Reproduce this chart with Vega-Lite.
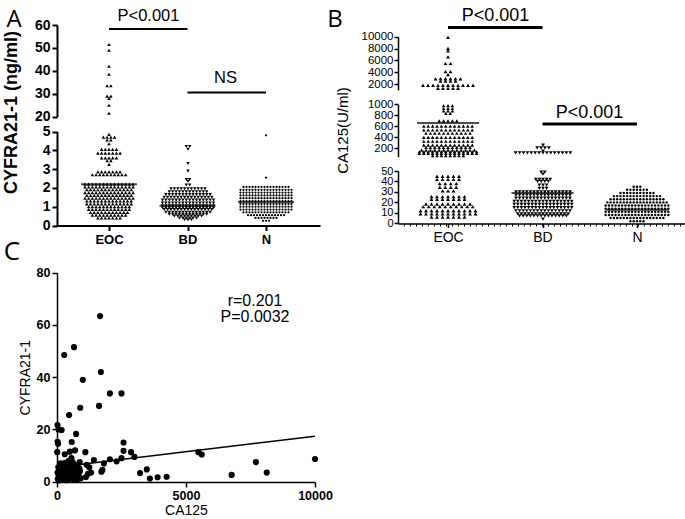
{
"$schema":"https://vega.github.io/schema/vega-lite/v6.json",
"width":685,"height":519,"padding":0,"autosize":"none","background":"#ffffff",
"config":{"view":{"stroke":null},"font":"Liberation Sans","axis":{"grid":false,"domainColor":"#000","tickColor":"#000","labelColor":"#000","titleColor":"#000","labelFont":"Liberation Sans","titleFont":"Liberation Sans","labelOverlap":false,"labelFlush":false}},
"datasets":{
"cE":[{"v":51.5},{"v":49},{"v":42},{"v":38.5},{"v":33.5},{"v":33.5},{"v":29},{"v":29},{"v":28},{"v":25},{"v":21.5},
{"v":4.85},{"v":4.7},{"v":4.7},{"v":4.7},{"v":4.7},{"v":4.55},{"v":4.55},{"v":4.35},
{"v":4.05},{"v":4.05},{"v":4.05},{"v":4.05},{"v":4.05},
{"v":3.85},{"v":3.85},{"v":3.85},{"v":3.85},{"v":3.85},{"v":3.85},{"v":3.85},
{"v":3.6},{"v":3.6},{"v":3.6},{"v":3.6},{"v":3.6},{"v":3.45},{"v":3.45},{"v":3.25},
{"v":2.85},{"v":2.85},{"v":2.85},{"v":2.85},{"v":2.85},{"v":2.85},{"v":2.85},
{"v":2.7},{"v":2.7},{"v":2.7},{"v":2.7},{"v":2.7},{"v":2.7},{"v":2.7},{"v":2.7},{"v":2.7},{"v":2.7},
{"v":2.2},{"v":2.2},{"v":2.2},{"v":2.2},{"v":2.2},{"v":2.2},{"v":2.2},{"v":2.2},{"v":2.2},{"v":2.2},{"v":2.2},{"v":2.2},{"v":2.2},{"v":2.2},
{"v":2.05},{"v":2.05},{"v":2.05},{"v":2.05},{"v":2.05},{"v":2.05},{"v":2.05},{"v":2.05},{"v":2.05},{"v":2.05},{"v":2.05},{"v":2.05},{"v":2.05},{"v":2.05},
{"v":1.9},{"v":1.9},{"v":1.9},{"v":1.9},{"v":1.9},{"v":1.9},{"v":1.9},{"v":1.9},{"v":1.9},{"v":1.9},{"v":1.9},{"v":1.9},{"v":1.9},
{"v":1.75},{"v":1.75},{"v":1.75},{"v":1.75},{"v":1.75},{"v":1.75},{"v":1.75},{"v":1.75},{"v":1.75},{"v":1.75},{"v":1.75},{"v":1.75},{"v":1.75},{"v":1.75},
{"v":1.6},{"v":1.6},{"v":1.6},{"v":1.6},{"v":1.6},{"v":1.6},{"v":1.6},{"v":1.6},{"v":1.6},{"v":1.6},{"v":1.6},{"v":1.6},{"v":1.6},
{"v":1.45},{"v":1.45},{"v":1.45},{"v":1.45},{"v":1.45},{"v":1.45},{"v":1.45},{"v":1.45},{"v":1.45},{"v":1.45},{"v":1.45},{"v":1.45},{"v":1.45},{"v":1.45},
{"v":1.3},{"v":1.3},{"v":1.3},{"v":1.3},{"v":1.3},{"v":1.3},{"v":1.3},{"v":1.3},{"v":1.3},{"v":1.3},{"v":1.3},{"v":1.3},{"v":1.3},
{"v":1.15},{"v":1.15},{"v":1.15},{"v":1.15},{"v":1.15},{"v":1.15},{"v":1.15},{"v":1.15},{"v":1.15},{"v":1.15},{"v":1.15},{"v":1.15},{"v":1.15},
{"v":1},{"v":1},{"v":1},{"v":1},{"v":1},{"v":1},{"v":1},{"v":1},{"v":1},{"v":1},{"v":1},{"v":1},
{"v":0.85},{"v":0.85},{"v":0.85},{"v":0.85},{"v":0.85},{"v":0.85},{"v":0.85},{"v":0.85},{"v":0.85},{"v":0.85},{"v":0.85},{"v":0.85},
{"v":0.7},{"v":0.7},{"v":0.7},{"v":0.7},{"v":0.7},{"v":0.7},{"v":0.7},{"v":0.7},{"v":0.7},{"v":0.7},{"v":0.7},
{"v":0.55},{"v":0.55},{"v":0.55},{"v":0.55},{"v":0.55},{"v":0.55},{"v":0.55},{"v":0.55},{"v":0.55},{"v":0.55},
{"v":0.4},{"v":0.4},{"v":0.4},{"v":0.4},{"v":0.4},{"v":0.4},{"v":0.4}],
"cB":[{"v":4.2},{"v":4.2},{"v":4.05},{"v":3.3},{"v":2.9},{"v":2.45},{"v":2.45},{"v":2.35},{"v":2.15},{"v":2.15},
{"v":1.95},{"v":1.95},{"v":1.95},{"v":1.95},{"v":1.95},{"v":1.95},{"v":1.95},{"v":1.95},{"v":1.95},{"v":1.95},{"v":1.95},
{"v":1.8},{"v":1.8},{"v":1.8},{"v":1.8},{"v":1.8},{"v":1.8},{"v":1.8},{"v":1.8},{"v":1.8},{"v":1.8},{"v":1.8},{"v":1.8},
{"v":1.65},{"v":1.65},{"v":1.65},{"v":1.65},{"v":1.65},{"v":1.65},{"v":1.65},{"v":1.65},{"v":1.65},{"v":1.65},{"v":1.65},{"v":1.65},{"v":1.65},{"v":1.65},
{"v":1.5},{"v":1.5},{"v":1.5},{"v":1.5},{"v":1.5},{"v":1.5},{"v":1.5},{"v":1.5},{"v":1.5},{"v":1.5},{"v":1.5},{"v":1.5},{"v":1.5},{"v":1.5},{"v":1.5},
{"v":1.35},{"v":1.35},{"v":1.35},{"v":1.35},{"v":1.35},{"v":1.35},{"v":1.35},{"v":1.35},{"v":1.35},{"v":1.35},{"v":1.35},{"v":1.35},{"v":1.35},{"v":1.35},{"v":1.35},{"v":1.35},
{"v":1.2},{"v":1.2},{"v":1.2},{"v":1.2},{"v":1.2},{"v":1.2},{"v":1.2},{"v":1.2},{"v":1.2},{"v":1.2},{"v":1.2},{"v":1.2},{"v":1.2},{"v":1.2},{"v":1.2},{"v":1.2},
{"v":1.05},{"v":1.05},{"v":1.05},{"v":1.05},{"v":1.05},{"v":1.05},{"v":1.05},{"v":1.05},{"v":1.05},{"v":1.05},{"v":1.05},{"v":1.05},{"v":1.05},{"v":1.05},{"v":1.05},{"v":1.05},
{"v":0.95},{"v":0.95},{"v":0.95},{"v":0.95},{"v":0.95},{"v":0.95},{"v":0.95},{"v":0.95},{"v":0.95},{"v":0.95},{"v":0.95},{"v":0.95},{"v":0.95},{"v":0.95},{"v":0.95},{"v":0.95},
{"v":0.85},{"v":0.85},{"v":0.85},{"v":0.85},{"v":0.85},{"v":0.85},{"v":0.85},{"v":0.85},{"v":0.85},{"v":0.85},{"v":0.85},{"v":0.85},{"v":0.85},{"v":0.85},{"v":0.85},
{"v":0.7},{"v":0.7},{"v":0.7},{"v":0.7},{"v":0.7},{"v":0.7},{"v":0.7},{"v":0.7},{"v":0.7},{"v":0.7},{"v":0.7},{"v":0.7},{"v":0.7},{"v":0.7},
{"v":0.6},{"v":0.6},{"v":0.6},{"v":0.6},{"v":0.6},{"v":0.6},{"v":0.6},{"v":0.6},{"v":0.6},{"v":0.6},{"v":0.6},{"v":0.6},
{"v":0.5},{"v":0.5},{"v":0.5},{"v":0.5},{"v":0.5},{"v":0.5},{"v":0.5},{"v":0.5},{"v":0.5},
{"v":0.4},{"v":0.4},{"v":0.4},{"v":0.4},{"v":0.4},{"v":0.4},{"v":0.3},{"v":0.3},{"v":0.3}],
"cN":[{"v":4.8},{"v":2.55},
{"v":2.05},{"v":2.05},{"v":2.05},{"v":2.05},{"v":2.05},{"v":2.05},{"v":2.05},{"v":2.05},{"v":2.05},{"v":2.05},{"v":2.05},{"v":2.05},{"v":2.05},{"v":2.05},{"v":2.05},{"v":2.05},
{"v":1.9},{"v":1.9},{"v":1.9},{"v":1.9},{"v":1.9},{"v":1.9},{"v":1.9},{"v":1.9},{"v":1.9},{"v":1.9},{"v":1.9},{"v":1.9},{"v":1.9},{"v":1.9},{"v":1.9},{"v":1.9},{"v":1.9},{"v":1.9},
{"v":1.75},{"v":1.75},{"v":1.75},{"v":1.75},{"v":1.75},{"v":1.75},{"v":1.75},{"v":1.75},{"v":1.75},{"v":1.75},{"v":1.75},{"v":1.75},{"v":1.75},{"v":1.75},{"v":1.75},{"v":1.75},{"v":1.75},{"v":1.75},
{"v":1.6},{"v":1.6},{"v":1.6},{"v":1.6},{"v":1.6},{"v":1.6},{"v":1.6},{"v":1.6},{"v":1.6},{"v":1.6},{"v":1.6},{"v":1.6},{"v":1.6},{"v":1.6},{"v":1.6},{"v":1.6},{"v":1.6},{"v":1.6},
{"v":1.45},{"v":1.45},{"v":1.45},{"v":1.45},{"v":1.45},{"v":1.45},{"v":1.45},{"v":1.45},{"v":1.45},{"v":1.45},{"v":1.45},{"v":1.45},{"v":1.45},{"v":1.45},{"v":1.45},{"v":1.45},{"v":1.45},{"v":1.45},
{"v":1.3},{"v":1.3},{"v":1.3},{"v":1.3},{"v":1.3},{"v":1.3},{"v":1.3},{"v":1.3},{"v":1.3},{"v":1.3},{"v":1.3},{"v":1.3},{"v":1.3},{"v":1.3},{"v":1.3},{"v":1.3},{"v":1.3},{"v":1.3},
{"v":1.15},{"v":1.15},{"v":1.15},{"v":1.15},{"v":1.15},{"v":1.15},{"v":1.15},{"v":1.15},{"v":1.15},{"v":1.15},{"v":1.15},{"v":1.15},{"v":1.15},{"v":1.15},{"v":1.15},{"v":1.15},{"v":1.15},{"v":1.15},
{"v":1},{"v":1},{"v":1},{"v":1},{"v":1},{"v":1},{"v":1},{"v":1},{"v":1},{"v":1},{"v":1},{"v":1},{"v":1},{"v":1},{"v":1},{"v":1},{"v":1},{"v":1},
{"v":0.85},{"v":0.85},{"v":0.85},{"v":0.85},{"v":0.85},{"v":0.85},{"v":0.85},{"v":0.85},{"v":0.85},{"v":0.85},{"v":0.85},{"v":0.85},{"v":0.85},{"v":0.85},{"v":0.85},{"v":0.85},{"v":0.85},{"v":0.85},
{"v":0.7},{"v":0.7},{"v":0.7},{"v":0.7},{"v":0.7},{"v":0.7},{"v":0.7},{"v":0.7},{"v":0.7},{"v":0.7},{"v":0.7},{"v":0.7},{"v":0.7},{"v":0.7},{"v":0.7},{"v":0.7},
{"v":0.55},{"v":0.55},{"v":0.55},{"v":0.55},{"v":0.55},{"v":0.55},{"v":0.55},{"v":0.55},{"v":0.55},{"v":0.55},{"v":0.55},{"v":0.55},{"v":0.55},
{"v":0.4},{"v":0.4},{"v":0.4},{"v":0.4},{"v":0.4},{"v":0.4},{"v":0.4},{"v":0.4},{"v":0.25},{"v":0.25},{"v":0.25}],
"kE":[{"v":9900},{"v":8000},{"v":7600},{"v":6600},{"v":5500},{"v":5500},{"v":4100},{"v":4100},{"v":3600},
{"v":2900},{"v":2900},{"v":2900},{"v":2900},{"v":2900},{"v":2900},{"v":2500},{"v":2500},{"v":2500},{"v":2500},
{"v":1800},{"v":1800},{"v":1800},{"v":1800},{"v":1800},{"v":1800},{"v":1800},{"v":1800},{"v":1800},{"v":1800},{"v":1800},
{"v":1300},{"v":1300},{"v":1300},{"v":1300},{"v":1300},
{"v":975},{"v":975},{"v":975},{"v":925},{"v":925},{"v":925},{"v":880},{"v":880},{"v":880},{"v":835},{"v":835},
{"v":700},{"v":700},{"v":700},{"v":700},{"v":700},
{"v":605},{"v":605},{"v":605},{"v":605},{"v":605},{"v":605},{"v":605},{"v":605},{"v":605},{"v":605},{"v":605},{"v":605},
{"v":535},{"v":535},{"v":535},{"v":535},{"v":535},{"v":535},{"v":535},{"v":535},{"v":535},{"v":535},{"v":535},{"v":535},
{"v":475},{"v":475},{"v":475},{"v":475},{"v":475},{"v":475},{"v":475},{"v":475},{"v":475},{"v":475},{"v":475},
{"v":400},{"v":400},{"v":400},{"v":400},{"v":400},{"v":400},{"v":400},{"v":400},{"v":400},{"v":400},{"v":400},{"v":400},
{"v":330},{"v":330},{"v":330},{"v":330},{"v":330},{"v":330},{"v":330},{"v":330},{"v":330},{"v":330},{"v":330},{"v":330},
{"v":260},{"v":260},{"v":260},{"v":260},{"v":260},{"v":260},{"v":260},{"v":260},{"v":260},{"v":260},{"v":260},{"v":260},
{"v":220},{"v":220},{"v":220},{"v":220},{"v":220},{"v":220},{"v":220},{"v":220},{"v":220},{"v":220},{"v":220},
{"v":170},{"v":170},{"v":170},{"v":170},{"v":170},{"v":170},{"v":170},{"v":170},{"v":170},{"v":170},{"v":170},{"v":170},{"v":170},
{"v":140},{"v":140},{"v":140},{"v":140},{"v":140},{"v":140},{"v":140},{"v":140},{"v":140},{"v":140},{"v":140},{"v":140},{"v":140},{"v":140},
{"v":110},{"v":110},{"v":110},{"v":110},{"v":110},{"v":110},{"v":110},{"v":110},{"v":110},{"v":110},{"v":110},{"v":110},{"v":110},{"v":110},
{"v":70},{"v":70},{"v":70},{"v":70},{"v":70},{"v":70},{"v":70},{"v":70},
{"v":45},{"v":45},{"v":45},{"v":45},{"v":45},{"v":42},{"v":42},{"v":42},{"v":42},{"v":42},
{"v":38},{"v":38},{"v":38},{"v":38},{"v":34.5},{"v":34.5},{"v":34.5},{"v":34.5},{"v":31},{"v":31},{"v":31},
{"v":25.5},{"v":25.5},{"v":25.5},{"v":25.5},{"v":25.5},{"v":25.5},{"v":25.5},
{"v":23},{"v":23},{"v":23},{"v":23},{"v":23},{"v":23},{"v":23},
{"v":18.5},{"v":18.5},{"v":18.5},{"v":18.5},{"v":18.5},{"v":18.5},{"v":18.5},{"v":18.5},{"v":18.5},
{"v":16},{"v":16},{"v":16},{"v":16},{"v":16},{"v":16},{"v":16},{"v":16},{"v":16},{"v":16},
{"v":12},{"v":12},{"v":12},{"v":12},{"v":12},{"v":12},{"v":12},{"v":12},{"v":12},{"v":12},{"v":12},
{"v":9},{"v":9},{"v":9},{"v":9},{"v":9},{"v":9},{"v":9},{"v":9},{"v":9},{"v":9},{"v":9},
{"v":6},{"v":6},{"v":6},{"v":6},{"v":6},{"v":6},{"v":6}],
"kB":[{"v":260},{"v":210},{"v":210},{"v":210},{"v":210},{"v":150},
{"v":120},{"v":120},{"v":120},{"v":120},{"v":120},{"v":120},{"v":120},{"v":120},{"v":120},{"v":120},{"v":120},{"v":120},{"v":120},{"v":120},{"v":120},
{"v":49},{"v":49},{"v":47},{"v":42},{"v":42},{"v":42},{"v":42},{"v":42},{"v":40},{"v":40},{"v":40},{"v":40},
{"v":36.5},{"v":36.5},{"v":36.5},{"v":33.5},{"v":33.5},{"v":33.5},
{"v":30},{"v":30},{"v":30},{"v":30},{"v":30},{"v":30},{"v":30},{"v":30},{"v":30},{"v":30},{"v":30},{"v":30},{"v":30},{"v":30},{"v":30},{"v":30},
{"v":27},{"v":27},{"v":27},{"v":27},{"v":27},{"v":27},{"v":27},{"v":27},{"v":27},{"v":27},{"v":27},{"v":27},{"v":27},{"v":27},{"v":27},{"v":27},
{"v":24},{"v":24},{"v":24},{"v":24},{"v":24},{"v":24},{"v":24},{"v":24},{"v":24},{"v":24},{"v":24},{"v":24},{"v":24},{"v":24},{"v":24},{"v":24},
{"v":21},{"v":21},{"v":21},{"v":21},{"v":21},{"v":21},{"v":21},{"v":21},{"v":21},{"v":21},{"v":21},{"v":21},{"v":21},{"v":21},{"v":21},{"v":21},{"v":21},
{"v":18},{"v":18},{"v":18},{"v":18},{"v":18},{"v":18},{"v":18},{"v":18},{"v":18},{"v":18},{"v":18},{"v":18},{"v":18},{"v":18},{"v":18},{"v":18},{"v":18},
{"v":15},{"v":15},{"v":15},{"v":15},{"v":15},{"v":15},{"v":15},{"v":15},{"v":15},{"v":15},{"v":15},{"v":15},{"v":15},{"v":15},{"v":15},{"v":15},{"v":15},
{"v":12},{"v":12},{"v":12},{"v":12},{"v":12},{"v":12},{"v":12},{"v":12},{"v":12},{"v":12},{"v":12},{"v":12},{"v":12},{"v":12},{"v":12},{"v":12},
{"v":9},{"v":9},{"v":9},{"v":9},{"v":9},{"v":9},{"v":9},{"v":9},{"v":9},{"v":9},{"v":9},{"v":9},{"v":9},{"v":9},{"v":9},
{"v":7},{"v":7},{"v":7},{"v":7},{"v":7},{"v":7},{"v":7},{"v":7},{"v":7},{"v":7},{"v":7},{"v":7},{"v":7},{"v":7},{"v":4}],
"kN":[{"v":35},{"v":35},{"v":35},{"v":32},{"v":32},{"v":32},{"v":32},{"v":32},{"v":32},{"v":32},
{"v":29},{"v":29},{"v":29},{"v":29},{"v":29},{"v":29},{"v":29},{"v":29},{"v":29},{"v":29},{"v":29},
{"v":26},{"v":26},{"v":26},{"v":26},{"v":26},{"v":26},{"v":26},{"v":26},{"v":26},{"v":26},{"v":26},{"v":26},{"v":26},{"v":26},{"v":26},
{"v":23},{"v":23},{"v":23},{"v":23},{"v":23},{"v":23},{"v":23},{"v":23},{"v":23},{"v":23},{"v":23},{"v":23},{"v":23},{"v":23},{"v":23},{"v":23},{"v":23},
{"v":20},{"v":20},{"v":20},{"v":20},{"v":20},{"v":20},{"v":20},{"v":20},{"v":20},{"v":20},{"v":20},{"v":20},{"v":20},{"v":20},{"v":20},{"v":20},{"v":20},{"v":20},{"v":20},
{"v":17},{"v":17},{"v":17},{"v":17},{"v":17},{"v":17},{"v":17},{"v":17},{"v":17},{"v":17},{"v":17},{"v":17},{"v":17},{"v":17},{"v":17},{"v":17},{"v":17},{"v":17},{"v":17},{"v":17},
{"v":14},{"v":14},{"v":14},{"v":14},{"v":14},{"v":14},{"v":14},{"v":14},{"v":14},{"v":14},{"v":14},{"v":14},{"v":14},{"v":14},{"v":14},{"v":14},{"v":14},{"v":14},{"v":14},{"v":14},
{"v":11},{"v":11},{"v":11},{"v":11},{"v":11},{"v":11},{"v":11},{"v":11},{"v":11},{"v":11},{"v":11},{"v":11},{"v":11},{"v":11},{"v":11},{"v":11},{"v":11},{"v":11},{"v":11},{"v":11},
{"v":8},{"v":8},{"v":8},{"v":8},{"v":8},{"v":8},{"v":8},{"v":8},{"v":8},{"v":8},{"v":8},{"v":8},{"v":8},{"v":8},{"v":8},{"v":8},{"v":8},{"v":8},{"v":8},{"v":8},
{"v":5},{"v":5},{"v":5},{"v":5},{"v":5},{"v":5},{"v":5},{"v":5},{"v":5},{"v":5},{"v":5},{"v":5},{"v":5},{"v":5},{"v":5},{"v":5},{"v":5},
{"v":2},{"v":2},{"v":2},{"v":2},{"v":2}],
"sc":[{"ca125":1670,"cyfra":63.4},{"ca125":660,"cyfra":51.5},{"ca125":280,"cyfra":48.5},{"ca125":1700,"cyfra":42},{"ca125":1000,"cyfra":39},{"ca125":2050,"cyfra":33.8},{"ca125":2500,"cyfra":33.8},{"ca125":1630,"cyfra":29},{"ca125":900,"cyfra":28.3},{"ca125":470,"cyfra":25.5},
{"ca125":20,"cyfra":21.7},{"ca125":60,"cyfra":20},{"ca125":180,"cyfra":19.8},{"ca125":740,"cyfra":18.3},{"ca125":20,"cyfra":15.3},{"ca125":40,"cyfra":14.5},{"ca125":570,"cyfra":15.2},{"ca125":2580,"cyfra":15},{"ca125":10,"cyfra":11.3},{"ca125":500,"cyfra":11.5},
{"ca125":700,"cyfra":12},{"ca125":1100,"cyfra":11.3},{"ca125":2580,"cyfra":11.8},{"ca125":2870,"cyfra":11.3},{"ca125":3000,"cyfra":9.5},{"ca125":5480,"cyfra":11.3},{"ca125":5610,"cyfra":10.4},{"ca125":1430,"cyfra":8.3},{"ca125":2050,"cyfra":8.6},{"ca125":2310,"cyfra":7.8},
{"ca125":2500,"cyfra":9},{"ca125":1820,"cyfra":7},{"ca125":1150,"cyfra":6.5},{"ca125":10000,"cyfra":8.7},{"ca125":7710,"cyfra":7.5},{"ca125":8130,"cyfra":3.5},{"ca125":6770,"cyfra":2.6},{"ca125":3220,"cyfra":3.3},{"ca125":3480,"cyfra":4.7},{"ca125":3600,"cyfra":1.2},
{"ca125":3900,"cyfra":1.7},{"ca125":4250,"cyfra":1.9},{"ca125":1320,"cyfra":3.5},{"ca125":1720,"cyfra":3.8},{"ca125":1760,"cyfra":4.5},{"ca125":920,"cyfra":1.3},{"ca125":1120,"cyfra":1.8},{"ca125":450,"cyfra":8},{"ca125":300,"cyfra":10.5},{"ca125":880,"cyfra":7.5},
{"ca125":560,"cyfra":9},{"ca125":1250,"cyfra":5.5},{"ca125":1200,"cyfra":3},
{"ca125":30,"cyfra":1},{"ca125":60,"cyfra":2.5},{"ca125":100,"cyfra":4},{"ca125":150,"cyfra":1.5},{"ca125":200,"cyfra":3},{"ca125":250,"cyfra":5},{"ca125":300,"cyfra":2},{"ca125":350,"cyfra":6},{"ca125":400,"cyfra":3.5},{"ca125":450,"cyfra":1},
{"ca125":500,"cyfra":4.5},{"ca125":550,"cyfra":2.5},{"ca125":600,"cyfra":5.5},{"ca125":650,"cyfra":3},{"ca125":700,"cyfra":1.5},{"ca125":750,"cyfra":4},{"ca125":800,"cyfra":6},{"ca125":850,"cyfra":2},{"ca125":120,"cyfra":6.5},{"ca125":180,"cyfra":5},
{"ca125":220,"cyfra":0.8},{"ca125":280,"cyfra":3.8},{"ca125":330,"cyfra":4.8},{"ca125":380,"cyfra":1.8},{"ca125":420,"cyfra":6.8},{"ca125":480,"cyfra":2.8},{"ca125":530,"cyfra":7},{"ca125":580,"cyfra":1.2},{"ca125":630,"cyfra":4.2},{"ca125":680,"cyfra":6.5},
{"ca125":720,"cyfra":2.2},{"ca125":780,"cyfra":0.8},{"ca125":820,"cyfra":3.2},{"ca125":870,"cyfra":5},{"ca125":50,"cyfra":5.5},{"ca125":90,"cyfra":3.2},{"ca125":140,"cyfra":7},{"ca125":240,"cyfra":2},{"ca125":310,"cyfra":7.2},{"ca125":360,"cyfra":0.6},
{"ca125":440,"cyfra":5.2},{"ca125":520,"cyfra":1.8},{"ca125":610,"cyfra":7.4},{"ca125":660,"cyfra":0.9},{"ca125":760,"cyfra":5.5},{"ca125":20,"cyfra":3.5},{"ca125":70,"cyfra":0.5},{"ca125":170,"cyfra":3.6},{"ca125":260,"cyfra":6.2},{"ca125":340,"cyfra":2.6},
{"ca125":460,"cyfra":3.2},{"ca125":560,"cyfra":4.8},{"ca125":620,"cyfra":2},{"ca125":740,"cyfra":3.2},{"ca125":890,"cyfra":4}]
},
"layer":[
{"data":{"name":"cE"},"transform":[{"window":[{"op":"count","as":"one"}],"frame":[0,0]},{"stack":"one","groupby":["v"],"offset":"center","as":["s0","s1"]},{"filter":"datum.v>=20"}],
"mark":{"type":"point","shape":"triangle-up","filled":true,"color":"#000","size":13,"opacity":1},
"encoding":{"x":{"field":"s0","type":"quantitative","scale":{"domain":[-13.5,26.5],"range":[35,183]},"axis":null},
"y":{"field":"v","type":"quantitative","scale":{"domain":[20,60],"range":[116.7,25]},"axis":{"orient":"left","offset":-57,"values":[20,30,40,50,60],"title":null,"domainWidth":2,"tickWidth":2,"tickSize":5,"labelFontSize":14,"labelFontWeight":"bold","labelPadding":2}}}},
{"data":{"name":"cE"},"transform":[{"window":[{"op":"count","as":"one"}],"frame":[0,0]},{"stack":"one","groupby":["v"],"offset":"center","as":["s0","s1"]},{"filter":"datum.v<=5"}],
"mark":{"type":"point","shape":"triangle-up","filled":true,"color":"#000","size":13,"opacity":1},
"encoding":{"x":{"field":"s0","type":"quantitative","scale":{"domain":[-13.5,26.5],"range":[35,183]},"axis":null},
"y":{"field":"v","type":"quantitative","scale":{"domain":[0,5],"range":[225.5,131.5]},"axis":null}}},
{"data":{"name":"cB"},"transform":[{"window":[{"op":"count","as":"one"}],"frame":[0,0]},{"stack":"one","groupby":["v"],"offset":"center","as":["s0","s1"]}],
"mark":{"type":"point","shape":"triangle-down","filled":true,"color":"#000","size":12,"opacity":1},
"encoding":{"x":{"field":"s0","type":"quantitative","scale":{"domain":[-12.5,27.5],"range":[120,256]},"axis":null},
"y":{"field":"v","type":"quantitative","scale":{"domain":[0,5],"range":[225.5,131.5]},"axis":null}}},
{"data":{"name":"cN"},"transform":[{"window":[{"op":"count","as":"one"}],"frame":[0,0]},{"stack":"one","groupby":["v"],"offset":"center","as":["s0","s1"]}],
"mark":{"type":"circle","color":"#000","size":5,"opacity":1},
"encoding":{"x":{"field":"s0","type":"quantitative","scale":{"domain":[-11.5,28.5],"range":[206,326]},"axis":null},
"y":{"field":"v","type":"quantitative","scale":{"domain":[0,5],"range":[225.5,131.5]},"axis":null}}},
{"data":{"values":[{"group":"EOC","mean":2.2},{"group":"BD","mean":1.05},{"group":"N","mean":1.25}]},
"mark":{"type":"tick","orient":"horizontal","size":56,"thickness":2,"color":"#000"},
"encoding":{"x":{"field":"group","type":"nominal","scale":{"type":"point","domain":["EOC","BD","N"],"range":[55,320],"padding":0.688},"axis":{"orient":"bottom","offset":-293.5,"title":null,"labelAngle":0,"domainWidth":2,"tickWidth":2,"tickSize":5,"labelFontSize":13,"labelFontWeight":"bold","labelPadding":3}},
"y":{"field":"mean","type":"quantitative","scale":{"domain":[0,5],"range":[225.5,131.5]},"axis":{"orient":"left","offset":-57,"values":[0,1,2,3,4,5],"title":"CYFRA21-1 (ng/ml)","titleX":-46,"titleY":112,"titleAngle":-90,"titleAlign":"center","titleBaseline":"middle","titleFontSize":18,"titleFontWeight":"bold","domainWidth":2,"tickWidth":2,"tickSize":5,"labelFontSize":14,"labelFontWeight":"bold","labelPadding":2}}}},
{"data":{"values":[{"from":"EOC","to":"BD","label":"P<0.001"}]},
"encoding":{"x":{"field":"from","type":"nominal","scale":{"type":"point","domain":["EOC","BD","N"],"range":[55,320],"padding":0.688},"axis":null},"y":{"datum":58.25,"type":"quantitative","scale":{"domain":[20,60],"range":[116.7,25]},"axis":null}},
"layer":[{"mark":{"type":"rule","strokeWidth":2,"color":"#000"},"encoding":{"x2":{"field":"to"}}},
{"mark":{"type":"text","dx":39.5,"dy":-13,"fontSize":16.5,"color":"#000","baseline":"middle","align":"center"},"encoding":{"text":{"field":"label"}}}]},
{"data":{"values":[{"from":"BD","to":"N","label":"NS"}]},
"encoding":{"x":{"field":"from","type":"nominal","scale":{"type":"point","domain":["EOC","BD","N"],"range":[55,320],"padding":0.688},"axis":null},"y":{"datum":30.6,"type":"quantitative","scale":{"domain":[20,60],"range":[116.7,25]},"axis":null}},
"layer":[{"mark":{"type":"rule","strokeWidth":2,"color":"#000"},"encoding":{"x2":{"field":"to"}}},
{"mark":{"type":"text","dx":38,"dy":-14,"fontSize":16.5,"color":"#000","baseline":"middle","align":"center"},"encoding":{"text":{"field":"label"}}}]},
{"data":{"name":"kE"},"transform":[{"window":[{"op":"count","as":"one"}],"frame":[0,0]},{"stack":"one","groupby":["v"],"offset":"center","as":["s0","s1"]},{"filter":"datum.v>=1000"}],
"mark":{"type":"point","shape":"triangle-up","filled":true,"color":"#000","size":15,"opacity":1},
"encoding":{"x":{"field":"s0","type":"quantitative","scale":{"domain":[-13.5,26.5],"range":[348,548]},"axis":null},
"y":{"field":"v","type":"quantitative","scale":{"domain":[1000,10000],"range":[90,36.7]},"axis":{"orient":"left","offset":-398,"values":[2000,4000,6000,8000,10000],"format":"d","title":null,"domainWidth":1.5,"tickWidth":1.5,"tickSize":4,"labelFontSize":11.5,"labelPadding":1}}}},
{"data":{"name":"kE"},"transform":[{"window":[{"op":"count","as":"one"}],"frame":[0,0]},{"stack":"one","groupby":["v"],"offset":"center","as":["s0","s1"]},{"filter":"datum.v>=50 && datum.v<1000"}],
"mark":{"type":"point","shape":"triangle-up","filled":true,"color":"#000","size":13,"opacity":1},
"encoding":{"x":{"field":"s0","type":"quantitative","scale":{"domain":[-13.5,26.5],"range":[360,536]},"axis":null},
"y":{"field":"v","type":"quantitative","scale":{"domain":[50,1000],"range":[156.7,104.3]},"axis":{"orient":"left","offset":-398,"values":[200,400,600,800,1000],"format":"d","title":null,"domainWidth":1.5,"tickWidth":1.5,"tickSize":4,"labelFontSize":11.5,"labelPadding":1}}}},
{"data":{"name":"kE"},"transform":[{"window":[{"op":"count","as":"one"}],"frame":[0,0]},{"stack":"one","groupby":["v"],"offset":"center","as":["s0","s1"]},{"filter":"datum.v<50"}],
"mark":{"type":"point","shape":"triangle-up","filled":true,"color":"#000","size":15,"opacity":1},
"encoding":{"x":{"field":"s0","type":"quantitative","scale":{"domain":[-13.5,26.5],"range":[338,558]},"axis":null},
"y":{"field":"v","type":"quantitative","scale":{"domain":[0,50],"range":[223.3,171]},"axis":null}}},
{"data":{"name":"kB"},"transform":[{"window":[{"op":"count","as":"one"}],"frame":[0,0]},{"stack":"one","groupby":["v"],"offset":"center","as":["s0","s1"]},{"filter":"datum.v>=50"}],
"mark":{"type":"point","shape":"triangle-down","filled":true,"color":"#000","size":15,"opacity":1},
"encoding":{"x":{"field":"s0","type":"quantitative","scale":{"domain":[-12,28],"range":[465,621]},"axis":null},
"y":{"field":"v","type":"quantitative","scale":{"domain":[50,1000],"range":[156.7,104.3]},"axis":null}}},
{"data":{"name":"kB"},"transform":[{"window":[{"op":"count","as":"one"}],"frame":[0,0]},{"stack":"one","groupby":["v"],"offset":"center","as":["s0","s1"]},{"filter":"datum.v<50"}],
"mark":{"type":"point","shape":"triangle-down","filled":true,"color":"#000","size":14,"opacity":1},
"encoding":{"x":{"field":"s0","type":"quantitative","scale":{"domain":[-12,28],"range":[471,615]},"axis":null},
"y":{"field":"v","type":"quantitative","scale":{"domain":[0,50],"range":[223.3,171]},"axis":null}}},
{"data":{"name":"kN"},"transform":[{"window":[{"op":"count","as":"one"}],"frame":[0,0]},{"stack":"one","groupby":["v"],"offset":"center","as":["s0","s1"]}],
"mark":{"type":"circle","color":"#000","size":6,"opacity":1},
"encoding":{"x":{"field":"s0","type":"quantitative","scale":{"domain":[-10.5,29.5],"range":[571,703]},"axis":null},
"y":{"field":"v","type":"quantitative","scale":{"domain":[0,50],"range":[223.3,171]},"axis":null}}},
{"data":{"values":[{"group":"EOC","mean":660}]},
"mark":{"type":"tick","orient":"horizontal","size":62,"thickness":2,"color":"#000"},
"encoding":{"x":{"field":"group","type":"nominal","scale":{"type":"point","domain":["EOC","BD","N"],"range":[398,687],"padding":0.53},"axis":null},
"y":{"field":"mean","type":"quantitative","scale":{"domain":[50,1000],"range":[156.7,104.3]},"axis":null}}},
{"data":{"values":[{"tick":0}]},
"mark":{"type":"point","opacity":0},
"encoding":{"x":{"field":"tick","type":"quantitative","scale":{"domain":[0,48],"range":[398,686]},"axis":{"orient":"bottom","offset":-295.5,"values":[1,2,3,4,5,6,7,8,9,10,11,12,13,14,15,16,17,18,19,20,21,22,23,24,25,26,27,28,29,30,31,32,33,34,35,36,37,38,39,40,41,42,43,44,45,46,47,48],"labels":false,"domain":false,"title":null,"tickSize":2.5,"tickWidth":1}}}},
{"data":{"values":[{"group":"BD","mean":29},{"group":"N","mean":13}]},
"mark":{"type":"tick","orient":"horizontal","size":62,"thickness":2,"color":"#000"},
"encoding":{"x":{"field":"group","type":"nominal","scale":{"type":"point","domain":["EOC","BD","N"],"range":[398,687],"padding":0.53},"axis":{"orient":"bottom","offset":-295.5,"title":null,"labelAngle":0,"domainWidth":1.5,"tickWidth":1.5,"tickSize":4,"labelFontSize":14,"labelPadding":3}},
"y":{"field":"mean","type":"quantitative","scale":{"domain":[0,50],"range":[223.3,171]},"axis":{"orient":"left","offset":-398,"values":[0,10,20,30,40,50],"format":"d","title":"CA125(U/ml)","titleX":-55.5,"titleY":130,"titleAngle":-90,"titleAlign":"center","titleBaseline":"middle","titleFontSize":15,"titleFontWeight":"normal","domainWidth":1.5,"tickWidth":1.5,"tickSize":4,"labelFontSize":11,"labelPadding":1}}}},
{"data":{"values":[{"from":"EOC","to":"BD","label":"P<0.001"}]},
"encoding":{"x":{"field":"from","type":"nominal","scale":{"type":"point","domain":["EOC","BD","N"],"range":[398,687],"padding":0.53},"axis":null},"y":{"datum":11554,"type":"quantitative","scale":{"domain":[1000,10000],"range":[90,36.7]},"axis":null}},
"layer":[{"mark":{"type":"rule","strokeWidth":3,"color":"#000"},"encoding":{"x2":{"field":"to"}}},
{"mark":{"type":"text","dx":47.5,"dy":-11,"fontSize":18,"color":"#000","baseline":"middle","align":"center"},"encoding":{"text":{"field":"label"}}}]},
{"data":{"values":[{"from":"BD","to":"N","label":"P<0.001"}]},
"encoding":{"x":{"field":"from","type":"nominal","scale":{"type":"point","domain":["EOC","BD","N"],"range":[398,687],"padding":0.53},"axis":null},"y":{"datum":643,"type":"quantitative","scale":{"domain":[50,1000],"range":[156.7,104.3]},"axis":null}},
"layer":[{"mark":{"type":"rule","strokeWidth":3,"color":"#000"},"encoding":{"x2":{"field":"to"}}},
{"mark":{"type":"text","dx":47,"dy":-11,"fontSize":18,"color":"#000","baseline":"middle","align":"center"},"encoding":{"text":{"field":"label"}}}]},
{"data":{"name":"sc"},
"mark":{"type":"circle","color":"#000","size":38,"opacity":1},
"encoding":{"x":{"field":"ca125","type":"quantitative","scale":{"domain":[0,10000],"range":[57,315],"nice":false},"axis":{"orient":"bottom","offset":-37,"values":[0,5000,10000],"format":"d","title":"CA125","titleFontSize":14,"titleFontWeight":"normal","titlePadding":2,"domainWidth":1.5,"tickWidth":1.5,"tickSize":5,"labelFontSize":12.5,"labelFontWeight":"bold","labelPadding":2}},
"y":{"field":"cyfra","type":"quantitative","scale":{"domain":[0,80],"range":[481.7,272.7],"nice":false},"axis":{"orient":"left","offset":-57,"values":[0,20,40,60,80],"format":"d","title":"CYFRA21-1","titleFontSize":14,"titleFontWeight":"normal","titlePadding":4,"domainWidth":1.5,"tickWidth":1.5,"tickSize":5,"labelFontSize":12.5,"labelFontWeight":"bold","labelPadding":2}}}},
{"data":{"values":[{"ca125":0,"cyfra":5.5},{"ca125":10000,"cyfra":17.4}]},
"mark":{"type":"line","color":"#000","strokeWidth":1.5},
"encoding":{"x":{"field":"ca125","type":"quantitative","scale":{"domain":[0,10000],"range":[57,315],"nice":false},"axis":null},
"y":{"field":"cyfra","type":"quantitative","scale":{"domain":[0,80],"range":[481.7,272.7],"nice":false},"axis":null}}},
{"data":{"values":[{"label":"r=0.201"}]},
"mark":{"type":"text","fontSize":16,"color":"#000","baseline":"middle","align":"center"},
"encoding":{"text":{"field":"label"},"x":{"datum":7674,"type":"quantitative","scale":{"domain":[0,10000],"range":[57,315],"nice":false},"axis":null},"y":{"datum":69.3,"type":"quantitative","scale":{"domain":[0,80],"range":[481.7,272.7],"nice":false},"axis":null}}},
{"data":{"values":[{"label":"P=0.0032"}]},
"mark":{"type":"text","fontSize":16,"color":"#000","baseline":"middle","align":"center"},
"encoding":{"text":{"field":"label"},"x":{"datum":7674,"type":"quantitative","scale":{"domain":[0,10000],"range":[57,315],"nice":false},"axis":null},"y":{"datum":62.9,"type":"quantitative","scale":{"domain":[0,80],"range":[481.7,272.7],"nice":false},"axis":null}}},
{"data":{"values":[{"label":"A"}]},
"mark":{"type":"text","font":"Open Sans","fontSize":24,"color":"#000","baseline":"alphabetic","align":"center"},
"encoding":{"text":{"field":"label"},"x":{"datum":-1667,"type":"quantitative","scale":{"domain":[0,10000],"range":[57,315],"nice":false},"axis":null},"y":{"datum":174,"type":"quantitative","scale":{"domain":[0,80],"range":[481.7,272.7],"nice":false},"axis":null}}},
{"data":{"values":[{"label":"B"}]},
"mark":{"type":"text","font":"Open Sans","fontSize":24,"color":"#000","baseline":"alphabetic","align":"center"},
"encoding":{"text":{"field":"label"},"x":{"datum":10775,"type":"quantitative","scale":{"domain":[0,10000],"range":[57,315],"nice":false},"axis":null},"y":{"datum":174,"type":"quantitative","scale":{"domain":[0,80],"range":[481.7,272.7],"nice":false},"axis":null}}},
{"data":{"values":[{"label":"C"}]},
"mark":{"type":"text","font":"Open Sans","fontSize":26,"color":"#000","baseline":"alphabetic","align":"center"},
"encoding":{"text":{"field":"label"},"x":{"datum":-1744,"type":"quantitative","scale":{"domain":[0,10000],"range":[57,315],"nice":false},"axis":null},"y":{"datum":84.9,"type":"quantitative","scale":{"domain":[0,80],"range":[481.7,272.7],"nice":false},"axis":null}}}
],
"resolve":{"scale":{"x":"independent","y":"independent"},"axis":{"x":"independent","y":"independent"}}
}
